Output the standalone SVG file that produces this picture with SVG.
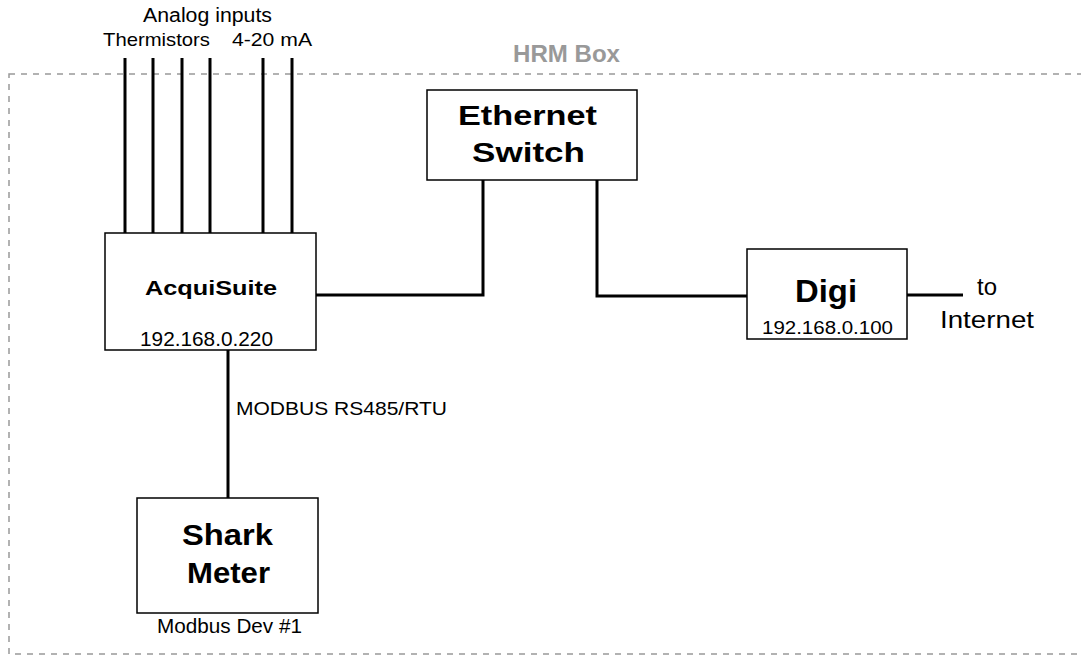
<svg xmlns="http://www.w3.org/2000/svg" width="1081" height="655" viewBox="0 0 1081 655">
<style>
.box{fill:#fff;stroke:#000;stroke-width:1.5}
.wire{fill:none;stroke:#000;stroke-width:3}
.t{font-family:"Liberation Sans",Arial,sans-serif;fill:#000}
.b{font-weight:bold}
</style>
<rect width="1081" height="655" fill="#fff"/>
<g id="hrm-box">
<rect x="9" y="74" width="1090" height="580" fill="none" stroke="#999" stroke-width="1.5" stroke-dasharray="6,6"/>
<text class="t b" x="513" y="62" font-size="23" style="fill:#999" textLength="107" lengthAdjust="spacingAndGlyphs">HRM Box</text>
</g>
<g id="connectors">
<path class="wire" d="M125 58V233M153 58V233M182 58V233M210 58V233M263 58V233M292 58V233"/>
<path class="wire" d="M316 295H483V180"/>
<path class="wire" d="M597 180V296H747"/>
<path class="wire" d="M907 295H963"/>
<path class="wire" d="M228 350V498"/>
<text class="t" x="236" y="415" font-size="19" textLength="211" lengthAdjust="spacingAndGlyphs">MODBUS RS485/RTU</text>
</g>
<g id="analog-inputs">
<text class="t" x="143" y="22" font-size="20" textLength="129" lengthAdjust="spacingAndGlyphs">Analog inputs</text>
<text class="t" x="103" y="46" font-size="19" textLength="107" lengthAdjust="spacingAndGlyphs">Thermistors</text>
<text class="t" x="232" y="46" font-size="19" textLength="80" lengthAdjust="spacingAndGlyphs">4-20 mA</text>
</g>
<g id="acquisuite">
<rect class="box" x="105" y="233" width="211" height="117"/>
<text class="t b" x="145" y="295" font-size="21" textLength="132" lengthAdjust="spacingAndGlyphs">AcquiSuite</text>
<text class="t" x="140" y="346" font-size="20" textLength="133" lengthAdjust="spacingAndGlyphs">192.168.0.220</text>
</g>
<g id="ethernet-switch">
<rect class="box" x="427" y="90" width="210" height="90"/>
<text class="t b" x="458" y="125" font-size="28" textLength="139" lengthAdjust="spacingAndGlyphs">Ethernet</text>
<text class="t b" x="472" y="162" font-size="28" textLength="113" lengthAdjust="spacingAndGlyphs">Switch</text>
</g>
<g id="digi">
<rect class="box" x="747" y="249" width="160" height="90"/>
<text class="t b" x="795" y="302" font-size="32" textLength="62" lengthAdjust="spacingAndGlyphs">Digi</text>
<text class="t" x="762" y="334" font-size="18" textLength="131" lengthAdjust="spacingAndGlyphs">192.168.0.100</text>
</g>
<g id="internet">
<text class="t" x="977" y="295" font-size="23" textLength="20" lengthAdjust="spacingAndGlyphs">to</text>
<text class="t" x="940" y="328" font-size="23" textLength="94" lengthAdjust="spacingAndGlyphs">Internet</text>
</g>
<g id="shark-meter">
<rect class="box" x="137" y="498" width="181" height="115"/>
<text class="t b" x="182" y="545" font-size="30" textLength="91" lengthAdjust="spacingAndGlyphs">Shark</text>
<text class="t b" x="187" y="583" font-size="30" textLength="83" lengthAdjust="spacingAndGlyphs">Meter</text>
<text class="t" x="157" y="633" font-size="20" textLength="145" lengthAdjust="spacingAndGlyphs">Modbus Dev #1</text>
</g>
</svg>
